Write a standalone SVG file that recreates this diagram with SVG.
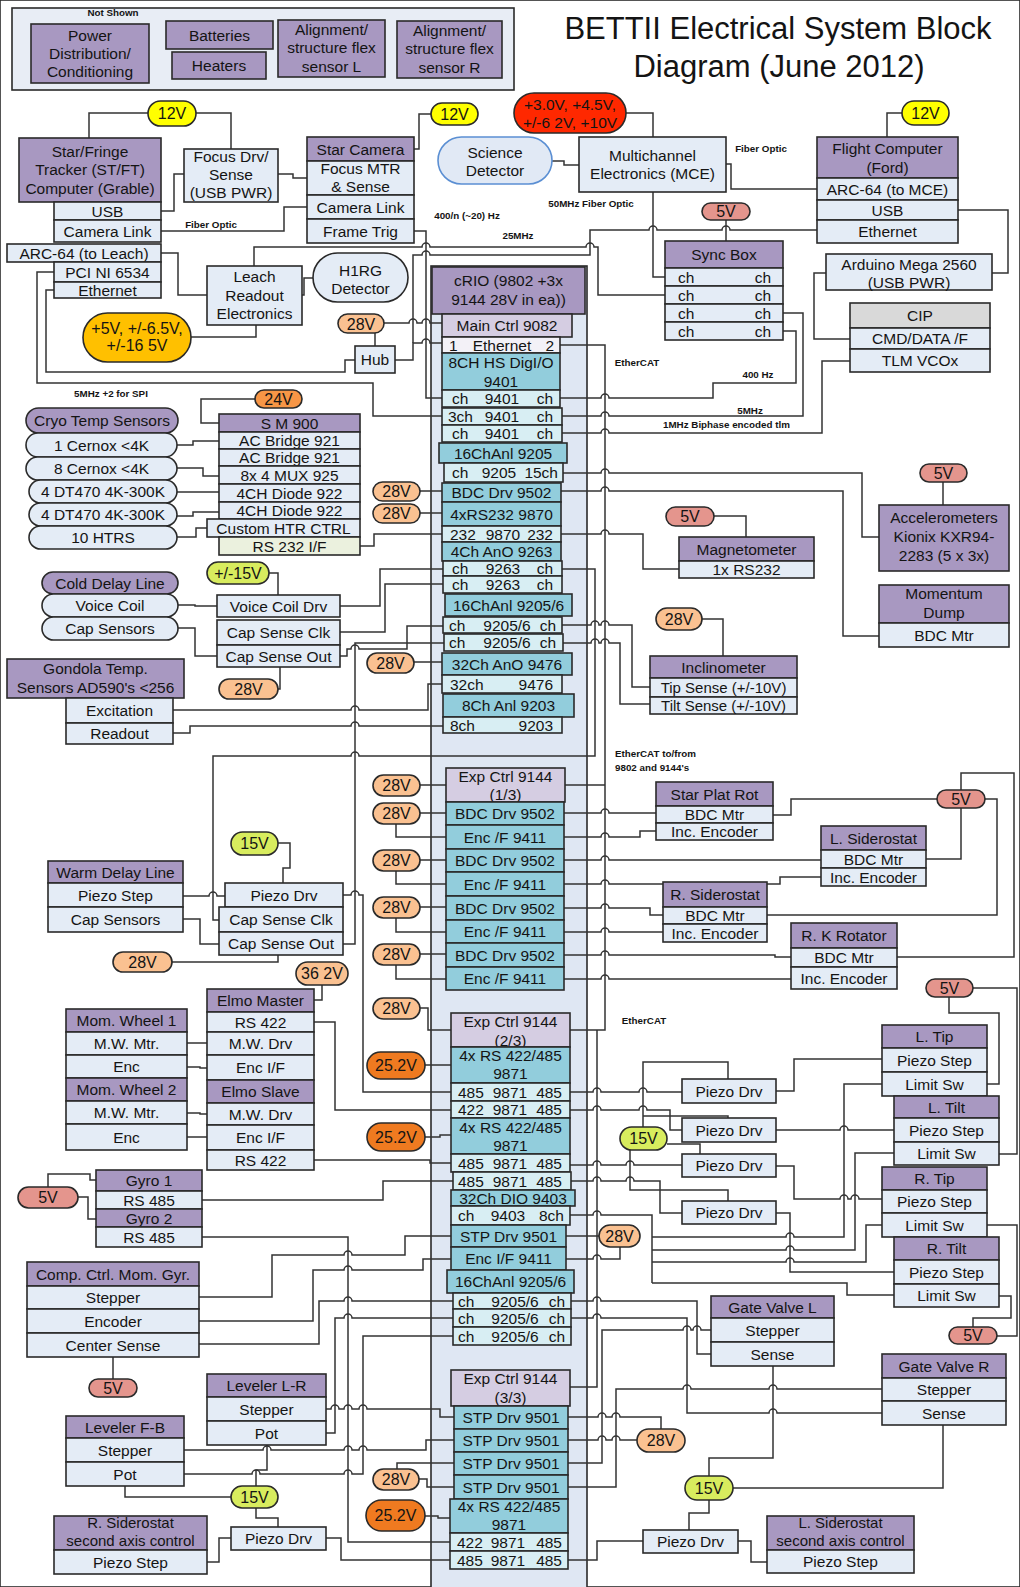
<svg xmlns="http://www.w3.org/2000/svg" width="1020" height="1587" viewBox="0 0 1020 1587">
<style>
rect{stroke:#2a2a2a;stroke-width:1.6}
text{font-family:"Liberation Sans",Arial,sans-serif;font-size:15.5px;text-anchor:middle;fill:#141414}
.s{font-size:9.8px;font-weight:bold}
.f15{font-size:15px}
.pt{font-size:16px}
.h{fill:#a898c1}.r{fill:#e4ecf6}.t{fill:#92cddc}.lt{fill:#d8eef3}.m{fill:#d5cde2}.w{fill:#f3f1f7}.gy{fill:#d9d9d9}.gn{fill:#ebf1de}
.p5{fill:#e4958d}.p12{fill:#ffff00}.p15{fill:#d8ec5e}.p28{fill:#fac191}.p24{fill:#f79646}.p25{fill:#ef7a20}.pY{fill:#ffc000}.pR{fill:#ff2800}
</style>
<rect x="0" y="0" width="1020" height="1587" fill="#ffffff" stroke="none"/>
<g id="crio-container"><rect x="431" y="266" width="156" height="1330" fill="#dfe7f3"/></g>

<g id="connectors" fill="none" stroke="#333" stroke-width="1.5">
<path d="M89,138V113H148M196,113H231V149"/>
<path d="M431,114H419V149H414"/>
<path d="M902,113H887V137"/>
<path d="M161,211H174V174H184"/>
<path d="M278,174H293V178H307"/>
<path d="M161,231H284V207H307"/>
<path d="M161,253H178V295H207"/>
<path d="M302,295H304V278H313"/>
<path d="M191,337H256V325"/>
<path d="M552,161H564V165H579"/>
<path d="M626,113H653V137"/>
<path d="M726,164H731V189H817"/>
<path d="M958,210H1008V273H992"/>
<path d="M826,273H814V339H850"/>
<path d="M726,220V241"/>
<path d="M653,192V277H665"/>
<path d="M254,266V247H422a4,4 0 0 1 8,0H586a4,4 0 0 1 8,0H598V295H665"/>
<path d="M395,360H413V343H422a4,4 0 0 1 8,0H442"/>
<path d="M413,343V255H422a4,4 0 0 1 8,0H590V230H649a4,4 0 0 1 8,0H722a4,4 0 0 1 8,0H817"/>
<path d="M414,231H426V398H442"/>
<path d="M384,323H409a4,4 0 0 1 8,0H422a4,4 0 0 1 8,0H442"/>
<path d="M375,346V333"/>
<path d="M54,290H46V372H345V360H355"/>
<path d="M54,272H37V383H373V416H442"/>
<path d="M783,331H796V383H713V398H609a4,4 0 0 0 -8,0H560"/>
<path d="M783,313H803V416H609a4,4 0 0 0 -8,0H562"/>
<path d="M850,361H822V433H609a4,4 0 0 0 -8,0H562"/>
<path d="M560,345H605V1030H570M605,785H565M597,1030V1387H570"/>
<path d="M563,473H601a4,4 0 0 1 8,0H862V537H879"/>
<path d="M561,491H601a4,4 0 0 1 8,0H843V636H879"/>
<path d="M561,534H601a4,4 0 0 1 8,0H643V569H679"/>
<path d="M714,516H746V537"/>
<path d="M943,482V505"/>
<path d="M360,546H374V534H442"/>
<path d="M255,399H201V423H219"/>
<path d="M177,445H193V441H219M177,468H203V476H219M177,492H219M177,516H193V512H219M177,537H196V528H207"/>
<path d="M269,573H278V595"/>
<path d="M178,605H195V606H217M178,628H195V656H217"/>
<path d="M278,689H280V667"/>
<path d="M340,606H380V569H443"/>
<path d="M340,632H385V584H443"/>
<path d="M340,656H347V649H351a4,4 0 0 1 8,0H407V626H443"/>
<path d="M562,625H591a4,4 0 0 1 8,0H601a4,4 0 0 1 8,0H632V687H650"/>
<path d="M563,643H591a4,4 0 0 1 8,0H601a4,4 0 0 1 8,0H620V704H650"/>
<path d="M702,619H723V656"/>
<path d="M562,569H595V756H359a4,4 0 0 0 -8,0H213V920H219"/>
<path d="M173,710H351a4,4 0 0 1 8,0H428V684H442"/>
<path d="M173,733H190V726H351a4,4 0 0 1 8,0H443"/>
<path d="M183,896H209a4,4 0 0 1 8,0H225"/>
<path d="M183,919H200V944H219"/>
<path d="M278,843H290V868H283V883"/>
<path d="M172,962H278V955"/>
<path d="M343,944H355V643H444"/>
<path d="M343,895H351a4,4 0 0 1 8,0H363V1092H451"/>
<path d="M314,1022H335V1110H451"/>
<path d="M314,1160H430V1163H451"/>
<path d="M322,985V1000H314"/>
<path d="M187,1043H207M187,1067H200V1068H207M187,1113H200V1114H207M187,1137H207"/>
<path d="M48,1187V1174H90V1180H96M78,1197H88V1219H96"/>
<path d="M202,1200H383V1181H453"/>
<path d="M202,1237H348V1542H450"/>
<path d="M199,1297H272V1255H344a4,4 0 0 1 8,0H405V1236H451"/>
<path d="M199,1321H313V1270H344a4,4 0 0 1 8,0H423V1259H451"/>
<path d="M199,1344H319V1301H344a4,4 0 0 1 8,0H453"/>
<path d="M326,1433H335V1318H344a4,4 0 0 1 8,0H453"/>
<path d="M326,1409H331a4,4 0 0 1 8,0H344a4,4 0 0 1 8,0H359a4,4 0 0 1 8,0H440V1417H454"/>
<path d="M184,1474H252a4,4 0 0 1 8,0H344a4,4 0 0 1 8,0H363V1336H453"/>
<path d="M184,1450H263a4,4 0 0 1 8,0H344a4,4 0 0 1 8,0H359a4,4 0 0 1 8,0H426V1440H454"/>
<path d="M125,1486V1497H231"/>
<path d="M256,1486V1470H267V1445"/>
<path d="M256,1508V1518H278V1527"/>
<path d="M207,1562H219V1538H231"/>
<path d="M326,1538H341V1560H450"/>
<path d="M397,1469V1463H454M419,1479H427V1487H454"/>
<path d="M425,1516H438V1518H450"/>
<path d="M425,1065H451M425,1137H440V1135H451"/>
<path d="M420,1008H428V1030H451"/>
<path d="M420,785H446M420,813H446M396,823V837H446M420,860H446M396,870V884H446M420,907H446M396,917V932H446M420,954H446M396,964V979H446"/>
<path d="M420,491H442M420,513H442M414,662H442"/>
<path d="M564,813H601a4,4 0 0 1 8,0H656"/>
<path d="M564,837H601a4,4 0 0 1 8,0H640V831H656"/>
<path d="M564,860H601a4,4 0 0 1 8,0H821"/>
<path d="M564,884H601a4,4 0 0 1 8,0H780V877H821"/>
<path d="M564,908H601a4,4 0 0 1 8,0H650V915H663"/>
<path d="M564,932H601a4,4 0 0 1 8,0H663"/>
<path d="M564,955H601a4,4 0 0 1 8,0H775V957H791"/>
<path d="M564,979H601a4,4 0 0 1 8,0H791"/>
<path d="M938,799H791V815H773M961,808V859H926M961,790V773H1014V957H897M985,799H997V915H767"/>
<path d="M643,1127V1062H728V1079M643,1116H728V1118M667,1144H700V1154M630,1150V1190H728V1201"/>
<path d="M570,1092H593a4,4 0 0 1 8,0H639a4,4 0 0 1 8,0H682"/>
<path d="M570,1110H593a4,4 0 0 1 8,0H639a4,4 0 0 1 8,0H670V1130H682"/>
<path d="M570,1165H593a4,4 0 0 1 8,0H626a4,4 0 0 1 8,0H682"/>
<path d="M571,1181H593a4,4 0 0 1 8,0H626a4,4 0 0 1 8,0H660V1213H682"/>
<path d="M776,1091H794V1059H882"/>
<path d="M776,1130H840a4,4 0 0 1 8,0H894"/>
<path d="M776,1166H794V1199H840a4,4 0 0 1 8,0H851a4,4 0 0 1 8,0H882"/>
<path d="M776,1213H790V1272H894"/>
<path d="M882,1084H844V1237H794a4,4 0 0 0 -8,0H652"/>
<path d="M894,1153H855V1250H794a4,4 0 0 0 -8,0H652"/>
<path d="M882,1225H866V1262H794a4,4 0 0 0 -8,0H652"/>
<path d="M894,1295H847V1283H652"/>
<path d="M570,1215H593a4,4 0 0 1 8,0H652V1283"/>
<path d="M599,1236H566M620,1247V1259H601a4,4 0 0 0 -8,0H566"/>
<path d="M571,1301H593a4,4 0 0 1 8,0H697V1354H711"/>
<path d="M571,1318H593a4,4 0 0 1 8,0H687V1413H769a4,4 0 0 1 8,0H882"/>
<path d="M568,1463H602V1330H683a4,4 0 0 1 8,0H693a4,4 0 0 1 8,0H711"/>
<path d="M568,1487H616V1389H683a4,4 0 0 1 8,0H769a4,4 0 0 1 8,0H882"/>
<path d="M568,1417H598a4,4 0 0 1 8,0H612a4,4 0 0 1 8,0H661V1429"/>
<path d="M568,1440H598a4,4 0 0 1 8,0H612a4,4 0 0 1 8,0H637"/>
<path d="M709,1476V1458H773V1366M733,1488H943V1425M709,1500V1513H689V1530"/>
<path d="M568,1560H597V1541H643"/>
<path d="M738,1541H751V1562H767"/>
<path d="M999,1296H1011V1318H973V1327"/>
<path d="M987,1225H1017V1336H997"/>
<path d="M949,997V1013H999V1084H987M973,988H1017V1154H999"/>
<path d="M113,1357V1379"/>
</g>

<g id="title"><text x="778" y="39" style="font-size:31px">BETTII Electrical System Block</text><text x="779" y="77" style="font-size:31px">Diagram (June 2012)</text></g>

<g id="labels">
<text class="s" x="211" y="227.5">Fiber Optic</text>
<text class="s" x="761" y="151.5">Fiber Optic</text>
<text class="s" x="591" y="206.5">50MHz Fiber Optic</text>
<text class="s" x="467" y="218.5">400/n (~20) Hz</text>
<text class="s" x="518" y="238.5">25MHz</text>
<text class="s" x="111" y="396.5">5MHz +2 for SPI</text>
<text class="s" x="637" y="365.5">EtherCAT</text>
<text class="s" x="758" y="377.5">400 Hz</text>
<text class="s" x="750" y="413.5">5MHz</text>
<text class="s" x="663" y="428" style="text-anchor:start">1MHz Biphase encoded tlm</text>
<text class="s" x="615" y="756.5" style="text-anchor:start">EtherCAT to/from</text>
<text class="s" x="615" y="770.5" style="text-anchor:start">9802 and 9144's</text>
<text class="s" x="644" y="1023.5">EtherCAT</text>
</g>

<g id="not-shown"><rect x="12" y="8" width="502" height="82" fill="#e8edf5"/><text class="s" x="113" y="16">Not Shown</text></g>
<g id="power-dist"><rect class="h" x="31" y="24" width="118" height="59"/><text x="90" y="40.5">Power</text><text x="90" y="58.5">Distribution/</text><text x="90" y="77">Conditioning</text></g>
<g id="batteries"><rect class="h" x="166" y="21" width="107" height="28"/><text x="219.5" y="40.5">Batteries</text></g>
<g id="heaters"><rect class="h" x="172" y="52" width="94" height="27"/><text x="219" y="71">Heaters</text></g>
<g id="align-l"><rect class="h" x="278" y="20" width="107" height="57"/><text x="331.5" y="35">Alignment/</text><text x="331.5" y="53">structure flex</text><text x="331.5" y="71.5">sensor L</text></g>
<g id="align-r"><rect class="h" x="397" y="21" width="105" height="57"/><text x="449.5" y="36">Alignment/</text><text x="449.5" y="54">structure flex</text><text x="449.5" y="72.5">sensor R</text></g>

<g id="v12-a"><rect class="p12" x="148" y="101" width="48" height="25" rx="12.5"/><text class="pt" x="172" y="119">12V</text></g>
<g id="v12-b"><rect class="p12" x="431" y="103" width="47" height="22" rx="11"/><text class="pt" x="454.5" y="119.5">12V</text></g>
<g id="v12-c"><rect class="p12" x="902" y="101" width="47" height="24" rx="12"/><text class="pt" x="925.5" y="118.5">12V</text></g>

<g id="st-ft"><rect class="h" x="19" y="138" width="142" height="64"/><text x="90" y="156.5">Star/Fringe</text><text x="90" y="174.5">Tracker (ST/FT)</text><text x="90" y="193.5">Computer (Grable)</text>
<rect class="r" x="54" y="202" width="107" height="18"/><text x="107.5" y="216.5">USB</text>
<rect class="r" x="54" y="220" width="107" height="22"/><text x="107.5" y="236.5">Camera Link</text>
<rect class="r" x="7" y="244" width="154" height="18"/><text x="84" y="258.5">ARC-64 (to Leach)</text>
<rect class="r" x="54" y="262" width="107" height="20"/><text x="107.5" y="277.5">PCI NI 6534</text>
<rect class="r" x="54" y="282" width="107" height="16"/><text x="107.5" y="295.5">Ethernet</text></g>

<g id="focus-drv"><rect class="r" x="184" y="149" width="94" height="53"/><text x="231" y="161.5">Focus Drv/</text><text x="231" y="179.5">Sense</text><text x="231" y="198">(USB PWR)</text></g>

<g id="star-camera"><rect class="h" x="307" y="137" width="107" height="24"/><text x="360.5" y="154.5">Star Camera</text>
<rect class="r" x="307" y="161" width="107" height="34"/><text x="360.5" y="174">Focus MTR</text><text x="360.5" y="192">&amp; Sense</text>
<rect class="r" x="307" y="195" width="107" height="24"/><text x="360.5" y="212.5">Camera Link</text>
<rect class="r" x="307" y="219" width="107" height="24"/><text x="360.5" y="236.5">Frame Trig</text></g>

<g id="science-det"><rect x="438" y="137" width="114" height="47" rx="23.5" fill="#e1e9f5" style="stroke:#5b8fd3"/><text x="495" y="157.5">Science</text><text x="495" y="175.5">Detector</text></g>
<g id="mce-power"><rect class="pR" x="514" y="93" width="112" height="40" rx="20"/><text x="570" y="109.5">+3.0V, +4.5V,</text><text x="570" y="127.5">+/-6 2V, +10V</text></g>
<g id="mce"><rect class="r" x="579" y="137" width="147" height="55"/><text x="652.5" y="160.5">Multichannel</text><text x="652.5" y="178.5">Electronics (MCE)</text></g>

<g id="flight-computer"><rect class="h" x="817" y="137" width="141" height="41"/><text x="887.5" y="153.5">Flight Computer</text><text x="887.5" y="172.5">(Ford)</text>
<rect class="r" x="817" y="178" width="141" height="22"/><text x="887.5" y="194.5">ARC-64 (to MCE)</text>
<rect class="r" x="817" y="200" width="141" height="20"/><text x="887.5" y="215.5">USB</text>
<rect class="r" x="817" y="220" width="141" height="23"/><text x="887.5" y="237">Ethernet</text></g>
<g id="arduino"><rect class="r" x="826" y="254" width="166" height="36"/><text x="909" y="269.5">Arduino Mega 2560</text><text x="909" y="287.5">(USB PWR)</text></g>
<g id="cip"><rect class="gy" x="850" y="303" width="140" height="25"/><text x="920" y="321">CIP</text>
<rect class="r" x="850" y="328" width="140" height="21"/><text x="920" y="344">CMD/DATA  /F</text>
<rect class="r" x="850" y="349" width="140" height="23"/><text x="920" y="366">TLM VCOx</text></g>

<g id="v5-sync"><rect class="p5" x="702" y="203" width="48" height="17" rx="8.5"/><text class="pt" x="726" y="217">5V</text></g>
<g id="sync-box"><rect class="h" x="665" y="241" width="118" height="27"/><text x="724" y="260">Sync Box</text>
<rect class="r" x="665" y="268" width="118" height="18"/><text y="282.5"><tspan x="678" style="text-anchor:start">ch</tspan><tspan x="771" style="text-anchor:end">ch</tspan></text>
<rect class="r" x="665" y="286" width="118" height="18"/><text y="300.5"><tspan x="678" style="text-anchor:start">ch</tspan><tspan x="771" style="text-anchor:end">ch</tspan></text>
<rect class="r" x="665" y="304" width="118" height="18"/><text y="318.5"><tspan x="678" style="text-anchor:start">ch</tspan><tspan x="771" style="text-anchor:end">ch</tspan></text>
<rect class="r" x="665" y="322" width="118" height="18"/><text y="336.5"><tspan x="678" style="text-anchor:start">ch</tspan><tspan x="771" style="text-anchor:end">ch</tspan></text></g>

<g id="leach"><rect class="r" x="207" y="266" width="95" height="59"/><text x="254.5" y="281.5">Leach</text><text x="254.5" y="300.5">Readout</text><text x="254.5" y="318.5">Electronics</text></g>
<g id="h1rg"><rect class="r" x="313" y="253" width="95" height="49" rx="24.5"/><text x="360.5" y="275.5">H1RG</text><text x="360.5" y="293.5">Detector</text></g>
<g id="leach-power"><rect class="pY" x="83" y="313" width="108" height="49" rx="24.5"/><text class="pt" x="137" y="333.5">+5V, +/-6.5V,</text><text class="pt" x="137" y="351">+/-16 5V</text></g>
<g id="v28-main"><rect class="p28" x="338" y="314" width="46" height="19" rx="9.5"/><text class="pt" x="361" y="329.5">28V</text></g>
<g id="hub"><rect class="r" x="355" y="346" width="40" height="27"/><text x="375" y="365">Hub</text></g>

<g id="crio">
<rect class="h" x="432" y="267" width="153" height="47"/><text x="508.5" y="285.5">cRIO (9802 +3x</text><text x="508.5" y="304.5">9144 28V in ea))</text>
<rect class="m" x="442" y="314" width="130" height="23"/><text x="507" y="331">Main Ctrl 9082</text>
<rect class="w" x="442" y="337" width="118" height="16"/><text y="350.5"><tspan x="449" style="text-anchor:start">1</tspan><tspan x="502">Ethernet</tspan><tspan x="554" style="text-anchor:end">2</tspan></text>
<rect class="t" x="442" y="353" width="118" height="37"/><text x="501" y="367.5">8CH HS DigI/O</text><text x="501" y="386.5">9401</text>
<rect class="lt" x="442" y="390" width="118" height="17"/><text y="404"><tspan x="452" style="text-anchor:start">ch</tspan><tspan x="502">9401</tspan><tspan x="553" style="text-anchor:end">ch</tspan></text>
<rect class="lt" x="442" y="408" width="120" height="17"/><text y="422"><tspan x="448" style="text-anchor:start">3ch</tspan><tspan x="502">9401</tspan><tspan x="553" style="text-anchor:end">ch</tspan></text>
<rect class="lt" x="442" y="425" width="120" height="17"/><text y="439"><tspan x="452" style="text-anchor:start">ch</tspan><tspan x="502">9401</tspan><tspan x="553" style="text-anchor:end">ch</tspan></text>
<rect class="t" x="439" y="443" width="128" height="20"/><text x="503" y="458.5">16ChAnl 9205</text>
<rect class="lt" x="444" y="463" width="119" height="19"/><text y="478"><tspan x="452" style="text-anchor:start">ch</tspan><tspan x="499">9205</tspan><tspan x="558" style="text-anchor:end">15ch</tspan></text>
<rect class="t" x="442" y="483" width="119" height="19"/><text x="501.5" y="498">BDC Drv 9502</text>
<rect class="t" x="442" y="502" width="119" height="24"/><text x="501.5" y="519.5">4xRS232 9870</text>
<rect class="lt" x="442" y="526" width="119" height="16"/><text y="539.5"><tspan x="450" style="text-anchor:start">232</tspan><tspan x="503">9870</tspan><tspan x="553" style="text-anchor:end">232</tspan></text>
<rect class="t" x="442" y="542" width="119" height="19"/><text x="501.5" y="557">4Ch AnO 9263</text>
<rect class="lt" x="443" y="561" width="119" height="15"/><text y="574"><tspan x="452" style="text-anchor:start">ch</tspan><tspan x="503">9263</tspan><tspan x="553" style="text-anchor:end">ch</tspan></text>
<rect class="lt" x="443" y="576" width="119" height="17"/><text y="590"><tspan x="452" style="text-anchor:start">ch</tspan><tspan x="503">9263</tspan><tspan x="553" style="text-anchor:end">ch</tspan></text>
<rect class="t" x="445" y="594" width="127" height="22"/><text x="508.5" y="610.5">16ChAnl 9205/6</text>
<rect class="lt" x="443" y="617" width="119" height="16"/><text y="630.5"><tspan x="449" style="text-anchor:start">ch</tspan><tspan x="507">9205/6</tspan><tspan x="556" style="text-anchor:end">ch</tspan></text>
<rect class="lt" x="444" y="634" width="119" height="17"/><text y="648"><tspan x="449" style="text-anchor:start">ch</tspan><tspan x="507">9205/6</tspan><tspan x="556" style="text-anchor:end">ch</tspan></text>
<rect class="t" x="442" y="653" width="130" height="22"/><text x="507" y="669.5">32Ch AnO 9476</text>
<rect class="lt" x="442" y="675" width="120" height="18"/><text y="689.5"><tspan x="450" style="text-anchor:start">32ch</tspan><tspan x="553" style="text-anchor:end">9476</tspan></text>
<rect class="t" x="443" y="694" width="131" height="23"/><text x="508.5" y="711">8Ch Anl 9203</text>
<rect class="lt" x="443" y="717" width="119" height="16"/><text y="730.5"><tspan x="450" style="text-anchor:start">8ch</tspan><tspan x="553" style="text-anchor:end">9203</tspan></text>
</g>

<g id="exp-ctrl-1">
<rect class="m" x="446" y="768" width="119" height="34"/><text x="505.5" y="781.5">Exp Ctrl 9144</text><text x="505.5" y="800">(1/3)</text>
<rect class="t" x="446" y="802" width="118" height="23"/><text x="505" y="819">BDC Drv 9502</text>
<rect class="t" x="446" y="825" width="118" height="24"/><text x="505" y="842.5">Enc  /F 9411</text>
<rect class="t" x="446" y="849" width="118" height="23"/><text x="505" y="866">BDC Drv 9502</text>
<rect class="t" x="446" y="872" width="118" height="24"/><text x="505" y="889.5">Enc  /F 9411</text>
<rect class="t" x="446" y="896" width="118" height="24"/><text x="505" y="913.5">BDC Drv 9502</text>
<rect class="t" x="446" y="920" width="118" height="23"/><text x="505" y="937">Enc  /F 9411</text>
<rect class="t" x="446" y="943" width="118" height="24"/><text x="505" y="960.5">BDC Drv 9502</text>
<rect class="t" x="446" y="967" width="118" height="23"/><text x="505" y="984">Enc  /F 9411</text>
</g>

<g id="exp-ctrl-2">
<rect class="m" x="451" y="1013" width="119" height="34"/><text x="510.5" y="1026.5">Exp Ctrl 9144</text><text x="510.5" y="1045.5">(2/3)</text>
<rect class="t" x="451" y="1047" width="119" height="36"/><text x="510.5" y="1060.5">4x RS 422/485</text><text x="510.5" y="1078.5">9871</text>
<rect class="lt" x="451" y="1083" width="119" height="18"/><text y="1097.5"><tspan x="458" style="text-anchor:start">485</tspan><tspan x="510">9871</tspan><tspan x="562" style="text-anchor:end">485</tspan></text>
<rect class="lt" x="451" y="1101" width="119" height="17"/><text y="1115"><tspan x="458" style="text-anchor:start">422</tspan><tspan x="510">9871</tspan><tspan x="562" style="text-anchor:end">485</tspan></text>
<rect class="t" x="451" y="1118" width="119" height="36"/><text x="510.5" y="1132.5">4x RS 422/485</text><text x="510.5" y="1150.5">9871</text>
<rect class="lt" x="451" y="1154" width="119" height="18"/><text y="1168.5"><tspan x="458" style="text-anchor:start">485</tspan><tspan x="510">9871</tspan><tspan x="562" style="text-anchor:end">485</tspan></text>
<rect class="lt" x="453" y="1172" width="118" height="18"/><text y="1186.5"><tspan x="458" style="text-anchor:start">485</tspan><tspan x="510">9871</tspan><tspan x="562" style="text-anchor:end">485</tspan></text>
<rect class="t" x="451" y="1190" width="124" height="16"/><text x="513" y="1203.5">32Ch DIO 9403</text>
<rect class="lt" x="451" y="1206" width="119" height="19"/><text y="1221"><tspan x="458" style="text-anchor:start">ch</tspan><tspan x="508">9403</tspan><tspan x="564" style="text-anchor:end">8ch</tspan></text>
<rect class="t" x="451" y="1225" width="115" height="22"/><text x="508.5" y="1241.5">STP Drv 9501</text>
<rect class="t" x="451" y="1247" width="115" height="23"/><text x="508.5" y="1264">Enc I/F 9411</text>
<rect class="t" x="447" y="1270" width="127" height="23"/><text x="510.5" y="1287">16ChAnl 9205/6</text>
<rect class="lt" x="453" y="1293" width="118" height="16"/><text y="1306.5"><tspan x="458" style="text-anchor:start">ch</tspan><tspan x="515">9205/6</tspan><tspan x="565" style="text-anchor:end">ch</tspan></text>
<rect class="lt" x="453" y="1309" width="118" height="18"/><text y="1323.5"><tspan x="458" style="text-anchor:start">ch</tspan><tspan x="515">9205/6</tspan><tspan x="565" style="text-anchor:end">ch</tspan></text>
<rect class="lt" x="453" y="1327" width="118" height="18"/><text y="1341.5"><tspan x="458" style="text-anchor:start">ch</tspan><tspan x="515">9205/6</tspan><tspan x="565" style="text-anchor:end">ch</tspan></text>
</g>

<g id="exp-ctrl-3">
<rect class="m" x="451" y="1370" width="119" height="36"/><text x="510.5" y="1383.5">Exp Ctrl 9144</text><text x="510.5" y="1402.5">(3/3)</text>
<rect class="t" x="454" y="1406" width="114" height="23"/><text x="511" y="1423">STP Drv 9501</text>
<rect class="t" x="454" y="1429" width="114" height="23"/><text x="511" y="1446">STP Drv 9501</text>
<rect class="t" x="454" y="1452" width="114" height="23"/><text x="511" y="1469">STP Drv 9501</text>
<rect class="t" x="454" y="1475" width="114" height="24"/><text x="511" y="1492.5">STP Drv 9501</text>
<rect class="t" x="450" y="1499" width="118" height="34"/><text x="509" y="1511.5">4x RS 422/485</text><text x="509" y="1529.5">9871</text>
<rect class="lt" x="450" y="1533" width="118" height="18"/><text y="1547.5"><tspan x="457" style="text-anchor:start">422</tspan><tspan x="508">9871</tspan><tspan x="562" style="text-anchor:end">485</tspan></text>
<rect class="lt" x="450" y="1551" width="118" height="18"/><text y="1565.5"><tspan x="457" style="text-anchor:start">485</tspan><tspan x="508">9871</tspan><tspan x="562" style="text-anchor:end">485</tspan></text>
</g>

<g id="v28-bdc"><rect class="p28" x="373" y="482" width="47" height="19" rx="9.5"/><text class="pt" x="396.5" y="497">28V</text></g>
<g id="v28-rs232"><rect class="p28" x="373" y="504" width="47" height="19" rx="9.5"/><text class="pt" x="396.5" y="519">28V</text></g>
<g id="v28-ano"><rect class="p28" x="367" y="653" width="47" height="20" rx="10"/><text class="pt" x="390.5" y="668.5">28V</text></g>
<g id="v28-e1"><rect class="p28" x="373" y="775" width="47" height="21" rx="10.5"/><text class="pt" x="396.5" y="791">28V</text></g>
<g id="v28-e1a"><rect class="p28" x="373" y="803" width="47" height="21" rx="10.5"/><text class="pt" x="396.5" y="819">28V</text></g>
<g id="v28-e1b"><rect class="p28" x="373" y="850" width="47" height="21" rx="10.5"/><text class="pt" x="396.5" y="866">28V</text></g>
<g id="v28-e1c"><rect class="p28" x="373" y="897" width="47" height="21" rx="10.5"/><text class="pt" x="396.5" y="913">28V</text></g>
<g id="v28-e1d"><rect class="p28" x="373" y="944" width="47" height="21" rx="10.5"/><text class="pt" x="396.5" y="960">28V</text></g>
<g id="v28-e2"><rect class="p28" x="373" y="998" width="47" height="21" rx="10.5"/><text class="pt" x="396.5" y="1014">28V</text></g>
<g id="v252-a"><rect class="p25" x="367" y="1052" width="58" height="27" rx="13.5"/><text class="pt" x="396" y="1071">25.2V</text></g>
<g id="v252-b"><rect class="p25" x="367" y="1123" width="58" height="28" rx="14"/><text class="pt" x="396" y="1142.5">25.2V</text></g>
<g id="v252-c"><rect class="p25" x="366" y="1500" width="59" height="31" rx="15.5"/><text class="pt" x="395.5" y="1521">25.2V</text></g>
<g id="v28-e3l"><rect class="p28" x="373" y="1469" width="46" height="21" rx="10.5"/><text class="pt" x="396" y="1485">28V</text></g>
<g id="v28-e2r"><rect class="p28" x="599" y="1225" width="41" height="22" rx="11"/><text class="pt" x="619.5" y="1241.5">28V</text></g>
<g id="v28-e3r"><rect class="p28" x="637" y="1429" width="48" height="23" rx="11.5"/><text class="pt" x="661" y="1446">28V</text></g>

<g id="v5-mag"><rect class="p5" x="666" y="507" width="48" height="19" rx="9.5"/><text class="pt" x="690" y="522">5V</text></g>
<g id="magnetometer"><rect class="h" x="679" y="537" width="135" height="24"/><text x="746.5" y="554.5">Magnetometer</text><rect class="r" x="679" y="561" width="135" height="17"/><text x="746.5" y="575">1x RS232</text></g>
<g id="v5-acc"><rect class="p5" x="920" y="464" width="47" height="18" rx="9"/><text class="pt" x="943.5" y="478.5">5V</text></g>
<g id="accelerometers"><rect class="h" x="879" y="505" width="130" height="66"/><text x="944" y="522.5">Accelerometers</text><text x="944" y="541.5">Kionix KXR94-</text><text x="944" y="560.5">2283 (5 x 3x)</text></g>
<g id="momentum-dump"><rect class="h" x="879" y="585" width="130" height="38"/><text x="944" y="598.5">Momentum</text><text x="944" y="618">Dump</text><rect class="r" x="879" y="623" width="130" height="24"/><text x="944" y="640.5">BDC Mtr</text></g>
<g id="v28-incl"><rect class="p28" x="656" y="608" width="46" height="22" rx="11"/><text class="pt" x="679" y="624.5">28V</text></g>
<g id="inclinometer"><rect class="h" x="650" y="656" width="147" height="22"/><text x="723.5" y="672.5">Inclinometer</text>
<rect class="r" x="650" y="678" width="147" height="19"/><text class="f15" x="723.5" y="693">Tip Sense (+/-10V)</text>
<rect class="r" x="650" y="697" width="147" height="17"/><text class="f15" x="723.5" y="710.5">Tilt Sense (+/-10V)</text></g>

<g id="star-plat-rot"><rect class="h" x="656" y="782" width="117" height="24"/><text x="714.5" y="799.5">Star Plat Rot</text>
<rect class="r" x="656" y="806" width="117" height="17"/><text x="714.5" y="820">BDC Mtr</text>
<rect class="r" x="656" y="823" width="117" height="17"/><text x="714.5" y="837">Inc. Encoder</text></g>
<g id="v5-sid"><rect class="p5" x="937" y="790" width="48" height="18" rx="9"/><text class="pt" x="961" y="804.5">5V</text></g>
<g id="l-siderostat"><rect class="h" x="821" y="826" width="105" height="24"/><text x="873.5" y="843.5">L. Siderostat</text>
<rect class="r" x="821" y="850" width="105" height="18"/><text x="873.5" y="864.5">BDC Mtr</text>
<rect class="r" x="821" y="868" width="105" height="18"/><text x="873.5" y="882.5">Inc. Encoder</text></g>
<g id="r-siderostat"><rect class="h" x="663" y="882" width="104" height="25"/><text x="715" y="900">R. Siderostat</text>
<rect class="r" x="663" y="907" width="104" height="17"/><text x="715" y="921">BDC Mtr</text>
<rect class="r" x="663" y="924" width="104" height="18"/><text x="715" y="938.5">Inc. Encoder</text></g>
<g id="rk-rotator"><rect class="h" x="791" y="923" width="106" height="25"/><text x="844" y="941">R. K Rotator</text>
<rect class="r" x="791" y="948" width="106" height="19"/><text x="844" y="963">BDC Mtr</text>
<rect class="r" x="791" y="967" width="106" height="22"/><text x="844" y="983.5">Inc. Encoder</text></g>

<g id="v15-piezo"><rect class="p15" x="620" y="1127" width="47" height="23" rx="11.5"/><text class="pt" x="643.5" y="1144">15V</text></g>
<g id="piezo-drv-1"><rect class="r" x="682" y="1079" width="94" height="24"/><text x="729" y="1096.5">Piezo Drv</text></g>
<g id="piezo-drv-2"><rect class="r" x="682" y="1118" width="94" height="24"/><text x="729" y="1135.5">Piezo Drv</text></g>
<g id="piezo-drv-3"><rect class="r" x="682" y="1154" width="94" height="23"/><text x="729" y="1171">Piezo Drv</text></g>
<g id="piezo-drv-4"><rect class="r" x="682" y="1201" width="94" height="23"/><text x="729" y="1218">Piezo Drv</text></g>
<g id="v5-tips"><rect class="p5" x="926" y="979" width="47" height="18" rx="9"/><text class="pt" x="949.5" y="993.5">5V</text></g>
<g id="l-tip"><rect class="h" x="882" y="1025" width="105" height="23"/><text x="934.5" y="1042">L. Tip</text>
<rect class="r" x="882" y="1048" width="105" height="24"/><text x="934.5" y="1065.5">Piezo Step</text>
<rect class="r" x="882" y="1072" width="105" height="24"/><text x="934.5" y="1089.5">Limit Sw</text></g>
<g id="l-tilt"><rect class="h" x="894" y="1096" width="105" height="22"/><text x="946.5" y="1112.5">L. Tilt</text>
<rect class="r" x="894" y="1118" width="105" height="24"/><text x="946.5" y="1135.5">Piezo Step</text>
<rect class="r" x="894" y="1142" width="105" height="23"/><text x="946.5" y="1159">Limit Sw</text></g>
<g id="r-tip"><rect class="h" x="882" y="1167" width="105" height="23"/><text x="934.5" y="1184">R. Tip</text>
<rect class="r" x="882" y="1190" width="105" height="23"/><text x="934.5" y="1207">Piezo Step</text>
<rect class="r" x="882" y="1213" width="105" height="24"/><text x="934.5" y="1230.5">Limit Sw</text></g>
<g id="r-tilt"><rect class="h" x="894" y="1237" width="105" height="23"/><text x="946.5" y="1254">R. Tilt</text>
<rect class="r" x="894" y="1260" width="105" height="24"/><text x="946.5" y="1277.5">Piezo Step</text>
<rect class="r" x="894" y="1284" width="105" height="23"/><text x="946.5" y="1301">Limit Sw</text></g>
<g id="v5-gate"><rect class="p5" x="949" y="1327" width="48" height="17" rx="8.5"/><text class="pt" x="973" y="1341">5V</text></g>
<g id="gate-valve-l"><rect class="h" x="711" y="1296" width="123" height="22"/><text x="772.5" y="1312.5">Gate Valve L</text>
<rect class="r" x="711" y="1318" width="123" height="24"/><text x="772.5" y="1335.5">Stepper</text>
<rect class="r" x="711" y="1342" width="123" height="24"/><text x="772.5" y="1359.5">Sense</text></g>
<g id="gate-valve-r"><rect class="h" x="882" y="1354" width="124" height="24"/><text x="944" y="1371.5">Gate Valve R</text>
<rect class="r" x="882" y="1378" width="124" height="23"/><text x="944" y="1395">Stepper</text>
<rect class="r" x="882" y="1401" width="124" height="24"/><text x="944" y="1418.5">Sense</text></g>
<g id="v15-br"><rect class="p15" x="685" y="1476" width="48" height="24" rx="12"/><text class="pt" x="709" y="1493.5">15V</text></g>
<g id="piezo-drv-br"><rect class="r" x="643" y="1530" width="95" height="23"/><text x="690.5" y="1547">Piezo Drv</text></g>
<g id="l-sid-2nd"><rect class="h" x="767" y="1516" width="147" height="34"/><text class="f15" x="840.5" y="1527.5">L. Siderostat</text><text class="f15" x="840.5" y="1546">second axis control</text>
<rect class="r" x="767" y="1550" width="147" height="23"/><text x="840.5" y="1567">Piezo Step</text></g>

<g id="v24"><rect class="p24" x="255" y="390" width="47" height="18" rx="9"/><text class="pt" x="278.5" y="404.5">24V</text></g>
<g id="cryo-sensors"><rect class="h" x="26" y="408" width="152" height="25" rx="12.5"/><text x="102" y="426">Cryo Temp Sensors</text>
<rect class="r" x="26" y="433" width="151" height="24" rx="12"/><text x="101.5" y="450.5">1 Cernox &lt;4K</text>
<rect class="r" x="26" y="457" width="151" height="23" rx="11.5"/><text x="101.5" y="474">8 Cernox &lt;4K</text>
<rect class="r" x="29" y="480" width="148" height="23" rx="11.5"/><text x="103" y="497">4 DT470 4K-300K</text>
<rect class="r" x="29" y="503" width="148" height="23" rx="11.5"/><text x="103" y="520">4 DT470 4K-300K</text>
<rect class="r" x="29" y="526" width="148" height="23" rx="11.5"/><text x="103" y="543">10 HTRS</text></g>
<g id="sm900"><rect class="h" x="219" y="414" width="141" height="18"/><text x="289.5" y="428.5">S M 900</text>
<rect class="r" x="219" y="432" width="141" height="17"/><text x="289.5" y="446">AC Bridge 921</text>
<rect class="r" x="219" y="449" width="141" height="17"/><text x="289.5" y="463">AC Bridge 921</text>
<rect class="r" x="219" y="466" width="141" height="18"/><text x="289.5" y="480.5">8x 4 MUX 925</text>
<rect class="r" x="219" y="484" width="141" height="18"/><text x="289.5" y="498.5">4CH Diode 922</text>
<rect class="r" x="219" y="502" width="141" height="17"/><text x="289.5" y="516">4CH Diode 922</text>
<rect class="r" x="207" y="519" width="153" height="18"/><text x="283.5" y="533.5">Custom HTR CTRL</text>
<rect class="gn" x="219" y="537" width="141" height="18"/><text x="289.5" y="551.5">RS 232 I/F</text></g>

<g id="v15-cold"><rect class="p15" x="207" y="562" width="62" height="22" rx="11"/><text class="pt" x="238" y="578.5">+/-15V</text></g>
<g id="cold-delay-line"><rect class="h" x="42" y="572" width="136" height="22" rx="11"/><text x="110" y="588.5">Cold Delay Line</text>
<rect class="r" x="42" y="594" width="136" height="23" rx="11.5"/><text x="110" y="611">Voice Coil</text>
<rect class="r" x="42" y="617" width="136" height="23" rx="11.5"/><text x="110" y="634">Cap Sensors</text></g>
<g id="cold-drv"><rect class="r" x="217" y="595" width="123" height="22"/><text x="278.5" y="611.5">Voice Coil Drv</text>
<rect class="r" x="217" y="620" width="123" height="25"/><text x="278.5" y="638">Cap Sense Clk</text>
<rect class="r" x="217" y="645" width="123" height="22"/><text x="278.5" y="661.5">Cap Sense Out</text></g>
<g id="v28-cold"><rect class="p28" x="219" y="679" width="59" height="20" rx="10"/><text class="pt" x="248.5" y="694.5">28V</text></g>

<g id="gondola"><rect class="h" x="7" y="659" width="177" height="39"/><text x="95.5" y="673.5">Gondola Temp.</text><text x="95.5" y="692.5">Sensors AD590's &lt;256</text>
<rect class="r" x="66" y="698" width="107" height="25"/><text x="119.5" y="716">Excitation</text>
<rect class="r" x="66" y="723" width="107" height="21"/><text x="119.5" y="739">Readout</text></g>

<g id="warm-delay-line"><rect class="h" x="48" y="861" width="135" height="22"/><text x="115.5" y="877.5">Warm Delay Line</text>
<rect class="r" x="48" y="883" width="135" height="24"/><text x="115.5" y="900.5">Piezo Step</text>
<rect class="r" x="48" y="907" width="135" height="25"/><text x="115.5" y="925">Cap Sensors</text></g>
<g id="v15-warm"><rect class="p15" x="231" y="832" width="47" height="23" rx="11.5"/><text class="pt" x="254.5" y="849">15V</text></g>
<g id="warm-drv"><rect class="r" x="225" y="883" width="118" height="24"/><text x="284" y="900.5">Piezo Drv</text>
<rect class="r" x="219" y="907" width="124" height="25"/><text x="281" y="925">Cap Sense Clk</text>
<rect class="r" x="219" y="932" width="124" height="23"/><text x="281" y="949">Cap Sense Out</text></g>
<g id="v28-warm"><rect class="p28" x="113" y="952" width="59" height="20" rx="10"/><text class="pt" x="142.5" y="967.5">28V</text></g>

<g id="v36"><rect class="p28" x="296" y="962" width="52" height="23" rx="11.5"/><text class="pt" x="322" y="979">36 2V</text></g>
<g id="elmo"><rect class="h" x="207" y="989" width="107" height="23"/><text x="260.5" y="1006">Elmo Master</text>
<rect class="r" x="207" y="1012" width="107" height="20"/><text x="260.5" y="1027.5">RS 422</text>
<rect class="r" x="207" y="1032" width="107" height="23"/><text x="260.5" y="1049">M.W. Drv</text>
<rect class="r" x="207" y="1055" width="107" height="25"/><text x="260.5" y="1073">Enc I/F</text>
<rect class="h" x="207" y="1080" width="107" height="23"/><text x="260.5" y="1097">Elmo Slave</text>
<rect class="r" x="207" y="1103" width="107" height="22"/><text x="260.5" y="1119.5">M.W. Drv</text>
<rect class="r" x="207" y="1125" width="107" height="25"/><text x="260.5" y="1143">Enc I/F</text>
<rect class="r" x="207" y="1150" width="107" height="20"/><text x="260.5" y="1165.5">RS 422</text></g>
<g id="mom-wheels"><rect class="h" x="66" y="1009" width="121" height="23"/><text x="126.5" y="1026">Mom. Wheel 1</text>
<rect class="r" x="66" y="1032" width="121" height="23"/><text x="126.5" y="1049">M.W. Mtr.</text>
<rect class="r" x="66" y="1055" width="121" height="23"/><text x="126.5" y="1072">Enc</text>
<rect class="h" x="66" y="1078" width="121" height="23"/><text x="126.5" y="1095">Mom. Wheel 2</text>
<rect class="r" x="66" y="1101" width="121" height="23"/><text x="126.5" y="1118">M.W. Mtr.</text>
<rect class="r" x="66" y="1124" width="121" height="26"/><text x="126.5" y="1142.5">Enc</text></g>

<g id="v5-gyro"><rect class="p5" x="18" y="1187" width="60" height="21" rx="10.5"/><text class="pt" x="48" y="1203">5V</text></g>
<g id="gyros"><rect class="h" x="96" y="1170" width="106" height="21"/><text x="149" y="1186">Gyro 1</text>
<rect class="r" x="96" y="1191" width="106" height="18"/><text x="149" y="1205.5">RS 485</text>
<rect class="h" x="96" y="1209" width="106" height="18"/><text x="149" y="1223.5">Gyro 2</text>
<rect class="r" x="96" y="1227" width="106" height="20"/><text x="149" y="1242.5">RS 485</text></g>

<g id="ccmg"><rect class="h" x="27" y="1262" width="172" height="24"/><text x="113" y="1279.5">Comp. Ctrl. Mom. Gyr.</text>
<rect class="r" x="27" y="1286" width="172" height="23"/><text x="113" y="1303">Stepper</text>
<rect class="r" x="27" y="1309" width="172" height="24"/><text x="113" y="1326.5">Encoder</text>
<rect class="r" x="27" y="1333" width="172" height="24"/><text x="113" y="1350.5">Center Sense</text></g>
<g id="v5-ccmg"><rect class="p5" x="89" y="1379" width="48" height="18" rx="9"/><text class="pt" x="113" y="1393.5">5V</text></g>

<g id="leveler-lr"><rect class="h" x="207" y="1374" width="119" height="23"/><text x="266.5" y="1391">Leveler L-R</text>
<rect class="r" x="207" y="1397" width="119" height="24"/><text x="266.5" y="1414.5">Stepper</text>
<rect class="r" x="207" y="1421" width="119" height="24"/><text x="266.5" y="1438.5">Pot</text></g>
<g id="leveler-fb"><rect class="h" x="66" y="1416" width="118" height="22"/><text x="125" y="1432.5">Leveler F-B</text>
<rect class="r" x="66" y="1438" width="118" height="24"/><text x="125" y="1455.5">Stepper</text>
<rect class="r" x="66" y="1462" width="118" height="24"/><text x="125" y="1479.5">Pot</text></g>
<g id="v15-bl"><rect class="p15" x="231" y="1486" width="47" height="22" rx="11"/><text class="pt" x="254.5" y="1502.5">15V</text></g>
<g id="piezo-drv-bl"><rect class="r" x="231" y="1527" width="95" height="23"/><text x="278.5" y="1544">Piezo Drv</text></g>
<g id="r-sid-2nd"><rect class="h" x="54" y="1516" width="153" height="34"/><text class="f15" x="130.5" y="1527.5">R. Siderostat</text><text class="f15" x="130.5" y="1546">second axis control</text>
<rect class="r" x="54" y="1550" width="153" height="24"/><text x="130.5" y="1567.5">Piezo Step</text></g>
</svg>
